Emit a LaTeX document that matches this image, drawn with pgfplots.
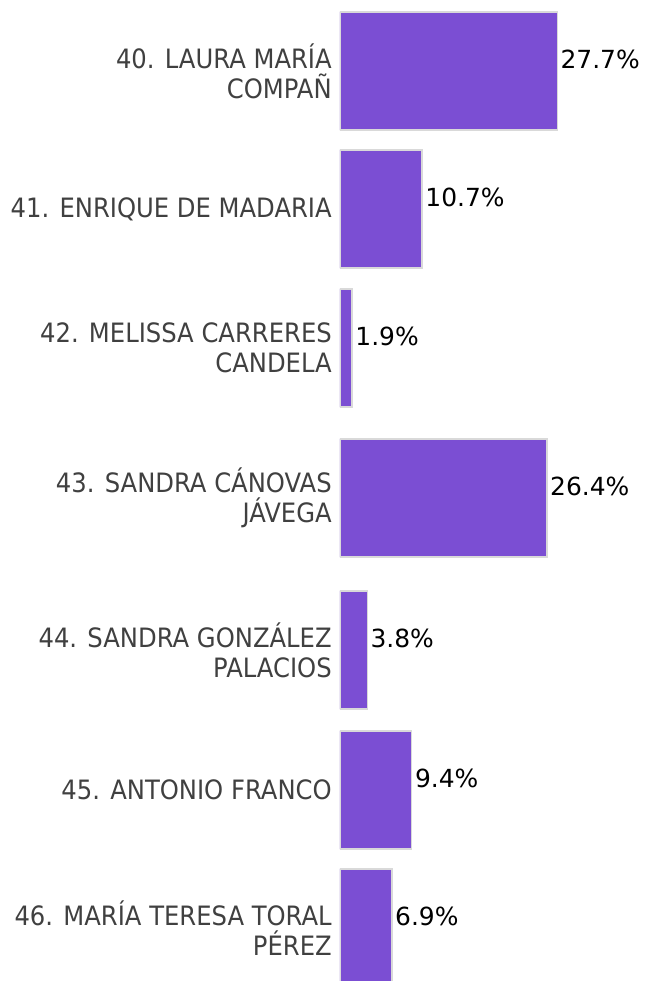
\documentclass[border=0pt]{standalone}
\usepackage{pgfplots}
\pgfplotsset{compat=1.18}
\usepackage{fontspec}
\setmainfont{DejaVu Sans}
\newfontfamily\labelfont[FakeStretch=0.91]{DejaVu Sans}
\definecolor{barpurple}{HTML}{7B4ED3}
\definecolor{labgray}{HTML}{404040}
\definecolor{bordergray}{HTML}{D9D9D9}
\begin{document}
\begin{tikzpicture}
\begin{axis}[
  name=ax,
  scale only axis,
  width=229.5pt, height=735.75pt,
  xmin=0.377, xmax=38.87,
  ymin=0, ymax=981,
  xbar,
  bar width=88.5pt,
  axis line style={draw=none},
  xtick=\empty,
  ytick={910,772,633,483,331,191,53},
  yticklabels={{40. LAURA MARÍA\\COMPAÑ},{41. ENRIQUE DE MADARIA},{42. MELISSA CARRERES\\CANDELA},{43. SANDRA CÁNOVAS\\JÁVEGA},{44. SANDRA GONZÁLEZ\\PALACIOS},{45. ANTONIO FRANCO},{46. MARÍA TERESA TORAL\\PÉREZ}},
  ytick style={draw=none},
  major tick length=0pt,
  yticklabel style={align=right, inner sep=0pt, xshift=-6pt, text=labgray, font=\labelfont\fontsize{20pt}{22.5pt}\selectfont},
  point meta=x,
  nodes near coords={\pgfmathprintnumber[fixed,precision=1,fixed zerofill,assume math mode=true]{\pgfplotspointmeta}\%},
  nodes near coords style={anchor=west, inner sep=0pt, xshift=2pt, yshift=8.5pt, text=black, font=\fontsize{18.7pt}{22pt}\selectfont},
  clip=true,
]
\addplot[fill=barpurple, draw=bordergray, line width=1pt] coordinates {
  (27.7,910) (10.7,772) (1.9,633) (26.4,483) (3.8,331) (9.4,191) (6.9,53)
};
\end{axis}
\pgfresetboundingbox
\path ([xshift=-255pt]ax.south west) rectangle (ax.north east);
\end{tikzpicture}
\end{document}
